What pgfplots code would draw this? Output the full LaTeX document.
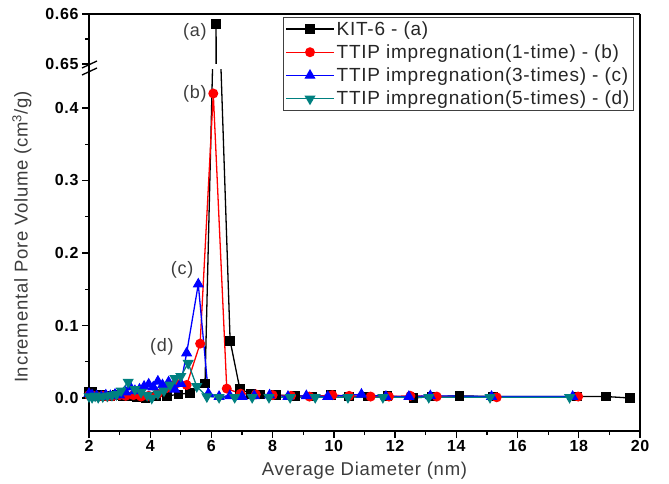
\documentclass[border=0pt]{standalone}
\usepackage{fontspec}
\setmainfont{Liberation Sans}
\newfontfamily\ls[LetterSpace=4]{Liberation Sans}
\usepackage{pgfplots}
\usepackage{pgfplotstable}
\pgfplotsset{compat=1.18}
\definecolor{cteal}{RGB}{0,128,128}
\definecolor{cblue}{RGB}{0,0,255}
\definecolor{cred}{RGB}{255,0,0}
\definecolor{lab}{RGB}{60,60,60}
\tikzset{lbl/.style={text=lab, font=\ls\fontsize{18}{20}\selectfont}}

\pgfplotstableread{
x y
2.0 0.008
2.1 0.009
2.2 0.005
2.35 0.004
2.5 0.003
2.7 0.003
2.9 0.004
3.1 0.003
3.3 0.002
3.55 0.001
3.85 0.000
4.2 0.002
4.55 0.003
4.92 0.005
5.3 0.007
5.79 0.020
6.15 0.658
6.61 0.079
6.93 0.012
7.3 0.006
7.6 0.005
8.1 0.004
8.75 0.003
9.3 0.002
9.9 0.004
10.5 0.002
11.1 0.002
11.75 0.003
12.6 0.000
13.2 0.002
14.1 0.003
15.2 0.002
17.95 0.002
18.9 0.002
19.68 0.000
}\dataA

\pgfplotstableread{
x y
2.0 0.004
2.15 0.003
2.3 0.002
2.45 0.003
2.6 0.002
2.8 0.003
3.0 0.004
3.2 0.003
3.45 0.004
3.7 0.002
3.95 0.003
4.25 0.006
4.55 0.014
4.85 0.020
5.19 0.018
5.63 0.075
6.06 0.420
6.5 0.013
6.95 0.006
7.45 0.005
8.0 0.004
8.6 0.003
9.2 0.002
9.95 0.004
10.5 0.003
11.2 0.002
11.8 0.002
12.5 0.003
13.36 0.002
15.32 0.001
17.98 0.002
}\dataB

\pgfplotstableread{
x y
2.0 0.006
2.1 0.004
2.25 0.003
2.4 0.002
2.55 0.004
2.7 0.003
2.85 0.005
3.0 0.004
3.2 0.008
3.35 0.015
3.5 0.010
3.65 0.012
3.8 0.016
3.95 0.019
4.1 0.015
4.25 0.023
4.4 0.018
4.6 0.022
4.8 0.012
5.0 0.020
5.19 0.062
5.57 0.157
5.9 0.006
6.25 0.002
6.6 0.003
7.0 0.002
7.4 0.003
7.9 0.004
8.5 0.002
9.1 0.003
9.8 0.002
10.9 0.005
11.7 0.002
12.45 0.002
13.15 0.003
15.15 0.002
17.8 0.002
}\dataC

\pgfplotstableread{
x y
2.0 0.002
2.1 0.001
2.2 0.003
2.3 0.001
2.45 0.002
2.6 0.003
2.75 0.004
2.9 0.005
3.05 0.010
3.28 0.022
3.5 0.012
3.7 0.008
3.9 0.004
4.05 0.000
4.25 0.006
4.45 0.010
4.65 0.018
4.81 0.027
5.0 0.030
5.24 0.048
5.52 0.016
5.85 0.002
6.25 0.001
6.76 0.001
7.33 0.001
7.88 0.001
8.57 0.001
9.39 0.001
10.46 0.001
11.6 0.001
13.1 0.001
15.1 0.001
17.7 0.001
}\dataD

\begin{document}
\begin{tikzpicture}
\path[use as bounding box] (0pt,0pt) rectangle (669pt,-484pt);
\pgfplotsset{
  common/.style={
    scale only axis, width=551pt,
    xmin=2, xmax=20,
    axis line style={-, line width=1.5pt, black},
    tick align=outside,
    major tick length=7pt, minor tick length=4pt,
    tick style={line width=1.3pt, black},
    ticklabel style={font=\ls\fontsize{16}{18}\selectfont\bfseries},
    /pgf/number format/assume math mode=true,
  },
}
\begin{axis}[common,
  at={(89pt,-431pt)}, anchor=south west,
  height=361pt,
  ymin=-0.0455, ymax=0.4524,
  axis x line*=bottom, axis y line*=left,
  xtick={2,4,...,20}, minor x tick num=1,
  ytick={0,0.1,0.2,0.3,0.4}, minor y tick num=1,
  yticklabel style={/pgf/number format/.cd, fixed, fixed zerofill, precision=1},
  xticklabel style={yshift=1pt},
  xlabel={Average Diameter (nm)},
  ylabel={Incremental Pore Volume (cm\textsuperscript{3}/g)},
  every axis x label/.style={at={(axis description cs:0.5,-0.109)}, anchor=center, font=\ls\fontsize{18.5}{20}\selectfont, text=lab},
  every axis y label/.style={at={(axis description cs:-0.1216,0.537)}, rotate=90, anchor=center, font=\ls\fontsize{18.5}{20}\selectfont, text=lab},
  legend style={at={(axis description cs:0.352,1.147)}, anchor=north west,
    draw=black!75, line width=0.8pt, fill=white,
    font=\ls\fontsize{19}{21}\selectfont, text=black!85,
    inner xsep=2pt, inner ysep=2pt, row sep=4pt,
    cells={anchor=west}},
  legend image code/.code={\draw[#1, mark repeat=2, mark phase=2] plot coordinates {(0pt,0pt) (24pt,0pt) (48pt,0pt)};},
]
\addplot[color=black, line width=1.3pt, mark=square*, mark size=4.2pt, mark options={solid, fill=black}] table {\dataA};
\addlegendentry{KIT-6 - (a)}
\addplot[color=cred, line width=1.3pt, mark=*, mark size=4.3pt, mark options={solid, fill=cred}] table {\dataB};
\addlegendentry{TTIP impregnation(1-time) - (b)}
\addplot[color=cblue, line width=1.3pt, mark=triangle*, mark size=5.2pt, mark options={solid, fill=cblue}] table {\dataC};
\addlegendentry{TTIP impregnation(3-times) - (c)}
\addplot[color=cteal, line width=1.3pt, mark=triangle*, mark size=5.2pt, mark options={solid, fill=cteal, rotate=180}] table {\dataD};
\addlegendentry{TTIP impregnation(5-times) - (d)}
\node[lbl] at (axis cs:5.46,0.42) {(b)};
\node[lbl] at (axis cs:5.04,0.1766) {(c)};
\node[lbl] at (axis cs:4.38,0.070) {(d)};
\end{axis}
\begin{axis}[common,
  at={(89pt,-64pt)}, anchor=south west,
  height=50pt,
  ymin=0.65, ymax=0.66,
  axis x line*=top, axis y line*=left,
  xtick=\empty,
  ytick={0.65,0.66}, minor ytick={0.655},
  yticklabel style={/pgf/number format/.cd, fixed, fixed zerofill, precision=2},
]
\addplot[color=black, line width=1.3pt, mark=square*, mark size=4.2pt, mark options={solid, fill=black}] table {\dataA};
\node[lbl] at (axis cs:5.46,0.6564) {(a)};
\end{axis}
\draw[line width=1.5pt] (640pt,-14pt) -- (640pt,-431pt);
\draw[line width=1.5pt] (89pt,-64pt) -- (89pt,-70pt);
\draw[line width=1.3pt] (82pt,-68pt) -- (97pt,-61pt);
\draw[line width=1.3pt] (82pt,-75pt) -- (97pt,-68pt);
\end{tikzpicture}
\end{document}
